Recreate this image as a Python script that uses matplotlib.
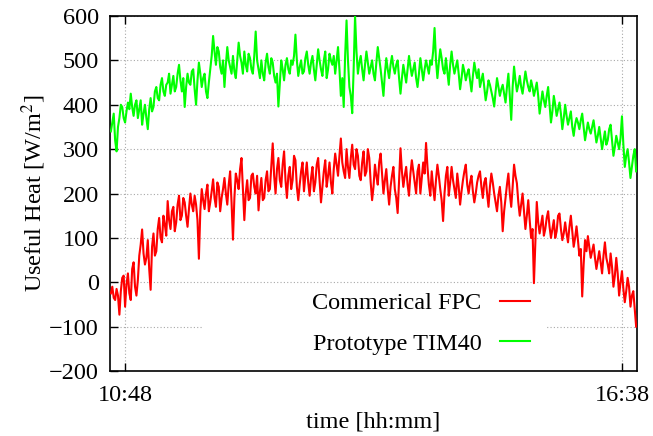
import numpy as np
import pandas as pd
import matplotlib
matplotlib.use("Agg")
import matplotlib.pyplot as plt
import matplotlib.dates as mdates
from matplotlib.patches import Rectangle

plt.rcParams['font.family'] = ['Liberation Serif', 'DejaVu Serif']
plt.rcParams['mathtext.fontset'] = 'stix'

# 1-minute samples of useful heat, 10:38 - 16:48
times = pd.date_range("2000-01-01 10:38", "2000-01-01 16:48", freq="1min")

fpc_heat = [
    -25, -10, -35, -40, -15, -30, -73, -20, 10, 15, -55, -5, 20, -25, -40, 30, 45, -10, -30, 5,
    60, 85, 119, 65, 40, 55, 95, 30, -17, 80, 110, 60, 70, 120, 145, 100, 90, 150, 130, 105,
    183, 140, 120, 160, 170, 115, 135, 175, 195, 140, 150, 190, 180, 150, 125, 165, 200, 175, 160, 195,
    175, 140, 53, 160, 210, 185, 165, 200, 220, 160, 180, 205, 232, 190, 170, 225, 215, 160, 190, 210,
    235, 200, 175, 220, 250, 180, 96, 190, 245, 230, 210, 255, 280, 210, 140, 200, 230, 185, 190, 240,
    245, 215, 200, 240, 162, 205, 235, 185, 190, 230, 250, 205, 210, 260, 313, 240, 200, 255, 280, 230,
    215, 265, 295, 230, 190, 240, 260, 210, 230, 285, 275, 215, 185, 220, 250, 270, 205, 240, 270, 225,
    195, 235, 260, 205, 225, 265, 280, 230, 180, 215, 250, 275, 215, 240, 270, 225, 200, 255, 290, 265,
    240, 285, 324, 270, 250, 235, 300, 260, 235, 280, 310, 265, 255, 300, 285, 240, 230, 270, 295, 240,
    250, 300, 280, 225, 185, 215, 265, 240, 220, 270, 290, 245, 200, 230, 255, 210, 175, 215, 240, 260,
    210, 190, 156, 230, 302, 250, 215, 240, 260, 220, 195, 245, 275, 250, 225, 200, 250, 265, 200, 235,
    270, 245, 314, 260, 220, 195, 250, 215, 185, 230, 265, 240, 210, 185, 138, 200, 240, 260, 195, 225,
    260, 230, 210, 190, 245, 215, 175, 205, 230, 250, 265, 220, 200, 225, 240, 205, 180, 200, 225, 240,
    250, 215, 190, 225, 235, 200, 170, 215, 245, 225, 200, 180, 160, 195, 215, 180, 115, 160, 190, 220,
    245, 200, 170, 215, 265, 240, 223, 180, 150, 175, 200, 160, 120, 150, 185, 140, 100, 120, -2, 90,
    181, 135, 110, 130, 150, 105, 120, 145, 160, 125, 100, 120, 140, 100, 115, 150, 155, 120, 95, 110,
    135, 110, 90, 125, 150, 115, 80, 100, 126, 95, 60, 75, -32, 40, 95, 70, 104, 80, 55, 70,
    85, 55, 30, 50, 70, 45, 20, 60, 90, 55, 40, 20, 65, 35, -10, 15, 55, 20, -30, 0,
    25, -15, -45, -20, 10, -10, -55, -30, -20, -60, -100,
]

tim40_heat = [
    340, 360, 380, 320, 295, 350, 370, 400, 395, 370, 360, 385, 405, 390, 425, 395, 375, 400, 410, 370,
    390, 410, 355, 380, 400, 370, 345, 390, 415, 385, 395, 430, 440, 415, 410, 445, 460, 430, 420, 445,
    450, 470, 425, 445, 465, 430, 440, 470, 490, 455, 430, 460, 395, 440, 470, 450, 445, 475, 480, 435,
    400, 455, 495, 470, 440, 460, 470, 430, 415, 450, 480, 510, 555, 520, 490, 530, 520, 485, 470, 500,
    440, 490, 530, 500, 485, 470, 510, 475, 460, 500, 540, 510, 495, 470, 520, 490, 475, 515, 505, 480,
    470, 510, 565, 500, 480, 460, 500, 470, 455, 495, 515, 485, 470, 505, 495, 465, 450, 470, 396, 450,
    500, 480, 455, 490, 505, 480, 470, 500, 490, 510, 558, 500, 465, 485, 500, 470, 475, 505, 520, 490,
    470, 495, 510, 480, 455, 490, 525, 500, 480, 465, 500, 520, 460, 480, 515, 500, 490, 510, 470, 500,
    530, 480, 420, 460, 395, 510, 590, 500, 440, 420, 381, 480, 600, 520, 470, 495, 510, 480, 455, 490,
    520, 495, 470, 485, 500, 470, 455, 495, 530, 505, 480, 450, 420, 470, 505, 480, 460, 490, 510, 485,
    470, 490, 500, 460, 425, 460, 490, 470, 450, 480, 510, 485, 465, 480, 495, 460, 440, 470, 505, 480,
    455, 480, 500, 485, 470, 500, 490, 520, 573, 500, 460, 495, 525, 505, 480, 470, 505, 475, 445, 490,
    520, 490, 470, 485, 500, 470, 435, 460, 490, 475, 455, 470, 480, 455, 430, 465, 495, 475, 460, 480,
    440, 455, 470, 440, 410, 430, 455, 445, 430, 415, 396, 430, 460, 440, 420, 435, 445, 425, 405, 440,
    470, 420, 366, 440, 486, 455, 430, 445, 465, 440, 425, 450, 475, 455, 440, 430, 455, 440, 420, 435,
    450, 420, 380, 405, 430, 410, 395, 420, 440, 400, 360, 385, 420, 400, 375, 390, 405, 380, 345, 370,
    400, 375, 355, 370, 385, 350, 330, 355, 370, 360, 345, 365, 380, 350, 320, 340, 360, 345, 335, 350,
    365, 340, 315, 330, 350, 325, 300, 320, 340, 310, 320, 345, 355, 320, 285, 305, 330, 315, 300, 325,
    374, 310, 260, 285, 300, 270, 235, 260, 285, 300, 250,
]

tick_times = pd.to_datetime(["2000-01-01 10:48", "2000-01-01 16:38"])
y_ticks = [-200, -100, 0, 100, 200, 300, 400, 500, 600]

fig = plt.figure(figsize=(6.53, 4.36), dpi=100)
ax = fig.add_axes([0.1685, 0.149, 0.807, 0.8143])

ax.plot(times, fpc_heat, color='#ff0000', lw=1.5, label='Commerical FPC', zorder=3)
ax.plot(times, tim40_heat, color='#00ff00', lw=1.5, label='Prototype TIM40', zorder=3)

ax.set_xlim(pd.Timestamp("2000-01-01 10:37:24"), pd.Timestamp("2000-01-01 16:48:36"))
ax.set_ylim(-200, 600)
ax.set_yticks(y_ticks)
ax.set_xticks(tick_times)
ax.xaxis.set_major_formatter(mdates.DateFormatter('%H:%M'))

ax.grid(True, color='#a8a8a8', linestyle=(0, (1, 2)), linewidth=0.8, zorder=0)
ax.set_axisbelow(True)

# opaque key area hides the grid behind it
ax.add_patch(Rectangle((0.1746, 0.004), 0.651, 0.221, transform=ax.transAxes,
                       facecolor='white', edgecolor='none', zorder=1))

ax.tick_params(axis='both', direction='in', length=6, width=1, labelsize=17.5)
ax.tick_params(axis='x', top=True, pad=10)
ax.tick_params(axis='y', pad=8)
for s in ax.spines.values():
    s.set_linewidth(1.2)

ax.set_xlabel('time [hh:mm]', fontsize=17.5, labelpad=4)
ax.set_ylabel('Useful Heat [W/m$^2$]', fontsize=17.5, labelpad=1)

ax.legend(loc='center right', bbox_to_anchor=(0.797, 0.134), frameon=False,
          markerfirst=False, fontsize=17.5, handlelength=1.25, handletextpad=0.75,
          labelspacing=0.75, borderpad=0, borderaxespad=0)

fig.savefig('out.png', dpi=100)
